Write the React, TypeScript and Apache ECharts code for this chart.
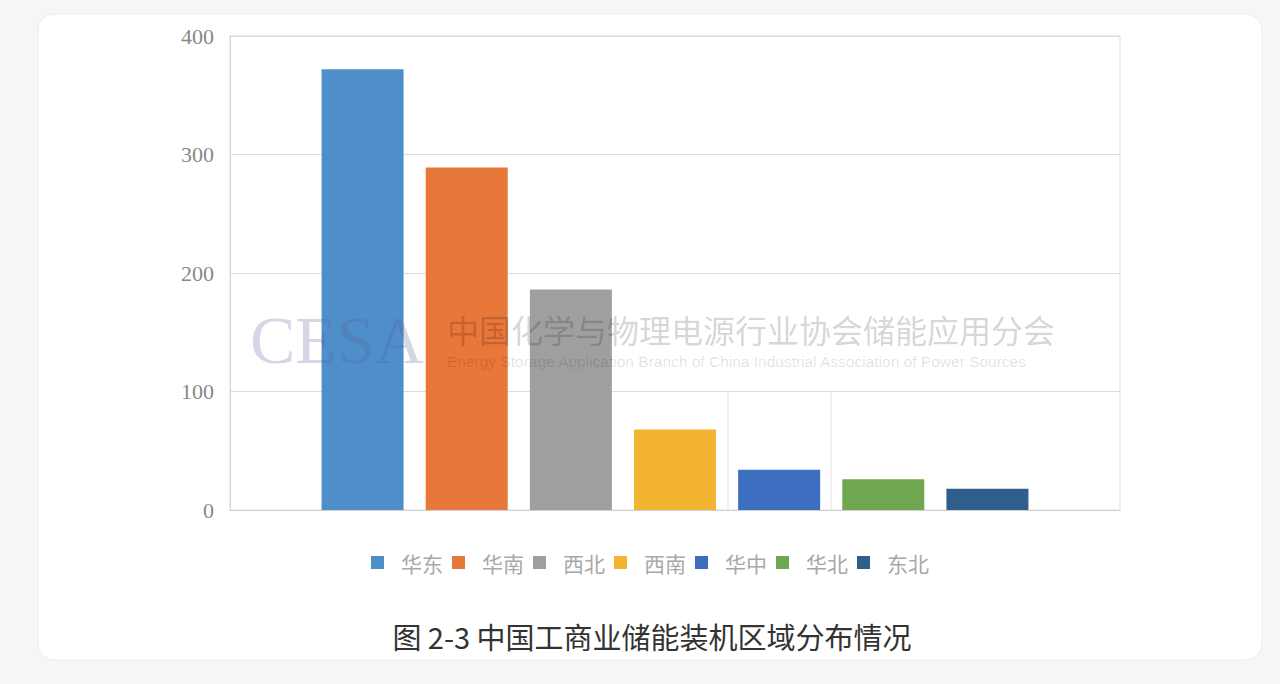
import React, { useEffect, useRef } from "react";
import * as echarts from "echarts";

const regions = ["华东", "华南", "西北", "西南", "华中", "华北", "东北"];
const values = [372, 289, 186, 68, 34, 26, 18];
const colors = ["#4f8fc9", "#e8773a", "#9f9f9f", "#f2b431", "#3d6fc1", "#6ea74f", "#2f5e8d"];
const yMin = 0;
const yMax = 400;
const yStep = 100;
const title = "图 2-3 中国工商业储能装机区域分布情况";
const watermarkLogo = "CESA";
const watermarkCn = "中国化学与物理电源行业协会储能应用分会";
const watermarkEn = "Energy Storage Application Branch of China Industrial Association of Power Sources";

export default function App() {
  const ref = useRef<HTMLDivElement>(null);
  useEffect(() => {
    if (!ref.current) return;
    const chart = echarts.init(ref.current, null, { renderer: "svg" });
    const series = regions.map((name, i) => ({
      name,
      type: "bar",
      data: [values[i]],
      barWidth: 82,
      barGap: "27%",
      itemStyle: { color: colors[i] },
    }));
    chart.setOption({
      animation: false,
      backgroundColor: "#f6f6f6",
      graphic: [
        {
          type: "rect",
          z: -10,
          shape: { x: 38, y: 14, width: 1224, height: 646, r: 16 },
          style: { fill: "#ffffff", stroke: "#ececec", lineWidth: 1 },
        },
        {
          type: "line",
          z: 1,
          shape: { x1: 728, y1: 392, x2: 728, y2: 510 },
          style: { stroke: "#e2e2e2", lineWidth: 1 },
        },
        {
          type: "line",
          z: 1,
          shape: { x1: 831, y1: 392, x2: 831, y2: 510 },
          style: { stroke: "#e2e2e2", lineWidth: 1 },
        },
        {
          type: "text",
          z: 100,
          x: 250,
          y: 340,
          style: {
            text: watermarkLogo,
            font: "68px 'Liberation Serif', serif",
            fill: "rgba(90,90,160,0.25)",
            verticalAlign: "middle",
          },
        },
        {
          type: "text",
          z: 100,
          x: 447,
          y: 329,
          style: {
            text: watermarkCn,
            font: "32px 'Noto Sans CJK SC', sans-serif",
            fill: "rgba(0,0,0,0.18)",
            verticalAlign: "middle",
          },
        },
        {
          type: "text",
          z: 100,
          x: 447,
          y: 361,
          style: {
            text: watermarkEn,
            font: "15.5px 'Liberation Sans', sans-serif",
            fill: "rgba(0,0,0,0.13)",
            verticalAlign: "middle",
          },
        },
        {
          type: "text",
          z: 10,
          x: 652,
          y: 636,
          style: {
            text: title,
            font: "29px 'Noto Sans CJK SC', sans-serif",
            fill: "#333333",
            align: "center",
            verticalAlign: "middle",
          },
        },
      ],
      grid: {
        left: 230,
        right: 160,
        top: 36,
        bottom: 174,
        show: true,
        borderColor: "#dcdcdc",
        borderWidth: 1,
      },
      legend: {
        top: 547,
        left: 366,
        itemWidth: 13,
        itemHeight: 13,
        itemGap: 9,
        icon: "rect",
        textStyle: {
          fontSize: 21,
          color: "#a8a8a8",
          fontFamily: "'Noto Sans CJK SC', sans-serif",
          padding: [0, 3, 0, 12],
        },
        data: regions,
      },
      xAxis: {
        type: "category",
        data: [""],
        axisLine: { show: true, lineStyle: { color: "#d0d0d0" } },
        axisTick: { show: false },
        axisLabel: { show: false },
      },
      yAxis: {
        type: "value",
        min: yMin,
        max: yMax,
        interval: yStep,
        axisLine: { show: true, lineStyle: { color: "#d6d6d6" } },
        axisTick: { show: false },
        splitLine: { lineStyle: { color: "#dcdcdc" } },
        axisLabel: {
          fontSize: 22,
          color: "#888888",
          fontFamily: "'Liberation Serif', serif",
          margin: 16,
        },
      },
      series,
    });
    return () => chart.dispose();
  }, []);
  return (
    <div
      ref={ref}
      style={{ position: "absolute", left: 0, top: 0, width: 1280, height: 684 }}
    />
  );
}
